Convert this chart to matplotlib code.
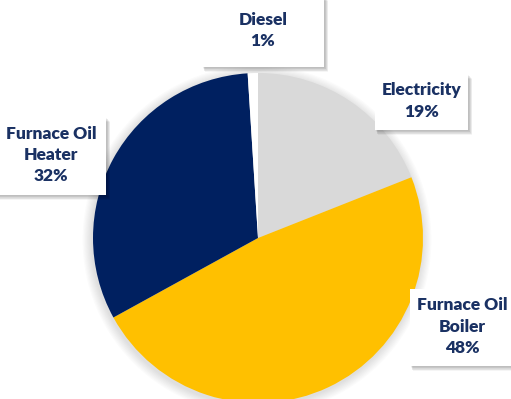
import matplotlib
matplotlib.use("Agg")
import matplotlib.pyplot as plt
from matplotlib.patches import Circle, Rectangle

labels = ["Electricity", "Furnace Oil\nBoiler", "Furnace Oil\nHeater", "Diesel"]
shares = [19, 48, 32, 1]
colors = ["#D9D9D9", "#FFC000", "#002060", "#FFFFFF"]

# label boxes in pixel coords: (left, top, right, bottom)
boxes = {
    "Diesel": (202, -4, 324, 67),
    "Electricity": (375, 74, 468, 130),
    "Furnace Oil\nHeater": (-4, 117, 106, 195),
    "Furnace Oil\nBoiler": (410, 289, 515, 366),
}

W, H = 511, 399
fig = plt.figure(figsize=(W / 100, H / 100), dpi=100)
ax = fig.add_axes([0, 0, 1, 1])
ax.set_xlim(0, W)
ax.set_ylim(0, H)
ax.axis("off")

cx, cy, r = 258, H - 238, 165

# soft shadow around the pie
for i in range(8):
    ax.add_patch(Circle((cx - 1, cy - 2), r + 1 + i * 1.2, color="#808080",
                        alpha=0.03, lw=0, zorder=0))

ax.pie(shares, colors=colors, startangle=90, counterclock=False,
       center=(cx, cy), radius=r, wedgeprops=dict(linewidth=0))
ax.set_xlim(0, W)
ax.set_ylim(0, H)
ax.set_aspect("equal")


def label_box(text, left, top, right, bottom):
    x0, x1 = left, right
    y0, y1 = H - bottom, H - top
    # blurred drop shadow
    for i in range(7):
        d = i * 0.9
        ax.add_patch(Rectangle((x0 + 1 + d * 0.3, y0 - 1 - d * 0.7), x1 - x0 + d * 0.3,
                               y1 - y0, color="#000000", alpha=0.04, lw=0, zorder=3))
    ax.add_patch(Rectangle((x0, y0), x1 - x0, y1 - y0, color="white", lw=0, zorder=4))
    ax.text((x0 + x1) / 2, (y0 + y1) / 2 + 1, text, ha="center", va="center",
            fontsize=12.5, fontweight="heavy", family="Lato", color="#1A3163",
            linespacing=1.42, zorder=5)


values = dict(zip(labels, shares))
for name, (l, t, rr, b) in boxes.items():
    label_box(f"{name}\n{values[name]}%", l, t, rr, b)

fig.savefig("out.png", dpi=100)
